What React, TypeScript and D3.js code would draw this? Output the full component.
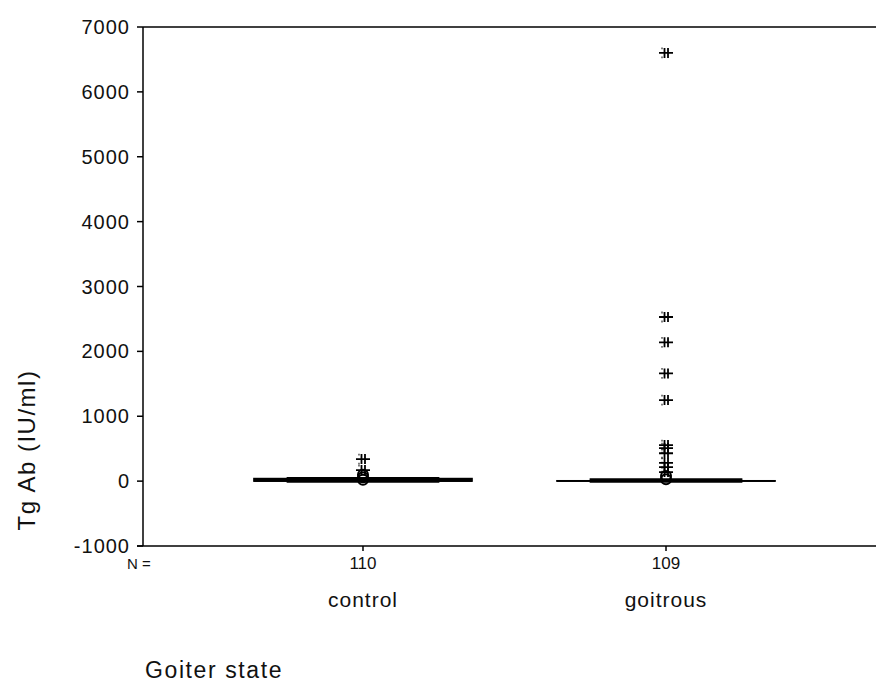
import React from "react";
import * as d3 from "d3";

const categories = ["control", "goitrous"];
const counts = [110, 109];
// five-number summaries (IU/ml)
const q1 = [0, 0];
const median = [2, 3];
const q3 = [40, 6];
const whiskerLow = [0, 0];
const whiskerHigh = [40, 20];
// outliers (circles) and extremes (stars)
const outliersControl = [20, 60, 100];
const outliersGoitrous = [30, 80];
const extremesControl = [170, 340];
const extremesGoitrous = [140, 215, 280, 430, 510, 555, 1250, 1660, 2140, 2530, 6600];
const yTicks = [-1000, 0, 1000, 2000, 3000, 4000, 5000, 6000, 7000];

const W = 876;
const H = 686;
const left = 143;
const top = 27;
const bottom = 546;
const font = "'Liberation Sans', Arial, sans-serif";

const outliers = [outliersControl, outliersGoitrous];
const extremes = [extremesControl, extremesGoitrous];

// SPSS style extreme marker
const starPath = "M-7,0H7M-1.5,-5V5M2,-5V5M-4.5,-4.5h1M-4.5,4.5h1";

export default function App() {
  const y = d3.scaleLinear().domain([-1000, 7000]).range([bottom, top]);
  const x = d3
    .scalePoint<string>()
    .domain(categories)
    .range([left, 886])
    .padding(0.726);
  const step = x.step();
  const boxW = step * 0.72;
  const capW = boxW * 0.7;

  return (
    <svg
      width={W}
      height={H}
      style={{ position: "absolute", left: 0, top: 0, background: "#fff" }}
      fontFamily={font}
    >
      {/* frame */}
      <line x1={left} x2={W} y1={top} y2={top} stroke="#000" strokeWidth={1.5} />
      <line x1={left} x2={left} y1={top} y2={bottom} stroke="#000" strokeWidth={1.5} />
      <line x1={left - 6} x2={W} y1={bottom} y2={bottom} stroke="#000" strokeWidth={1.5} />

      {/* y axis */}
      {yTicks.map((t) => (
        <g key={t}>
          <line x1={left - 6} x2={left} y1={y(t)} y2={y(t)} stroke="#000" strokeWidth={1.5} />
          <text
            x={left - 13}
            y={y(t)}
            dy="0.35em"
            textAnchor="end"
            fontSize={20}
            letterSpacing={1}
            fill="#111"
          >
            {t}
          </text>
        </g>
      ))}
      <text
        transform={`translate(35,450) rotate(-90)`}
        textAnchor="middle"
        fontSize={24}
        letterSpacing={1.5}
        fill="#111"
      >
        Tg Ab (IU/ml)
      </text>

      {/* x axis */}
      <text x={127} y={569} fontSize={15} fill="#111">
        N =
      </text>
      {categories.map((c, i) => {
        const cx = x(c) as number;
        return (
          <g key={c}>
            <line x1={cx} x2={cx} y1={bottom} y2={bottom + 5} stroke="#000" strokeWidth={1.5} />
            <text x={cx} y={569} textAnchor="middle" fontSize={17} fill="#111">
              {counts[i]}
            </text>
            <text x={cx} y={607} textAnchor="middle" fontSize={21} letterSpacing={1} fill="#111">
              {c}
            </text>
          </g>
        );
      })}
      <text x={145} y={678} fontSize={23} letterSpacing={1.6} fill="#111">
        Goiter state
      </text>

      {/* boxes */}
      {categories.map((c, i) => {
        const cx = x(c) as number;
        return (
          <g key={c}>
            <line x1={cx} x2={cx} y1={y(whiskerLow[i])} y2={y(whiskerHigh[i])} stroke="#000" />
            <line
              x1={cx - capW / 2}
              x2={cx + capW / 2}
              y1={y(whiskerHigh[i])}
              y2={y(whiskerHigh[i])}
              stroke="#000"
              strokeWidth={3}
            />
            <line
              x1={cx - capW / 2}
              x2={cx + capW / 2}
              y1={y(whiskerLow[i])}
              y2={y(whiskerLow[i])}
              stroke="#000"
              strokeWidth={3}
            />
            <rect
              x={cx - boxW / 2}
              y={y(q3[i])}
              width={boxW}
              height={Math.max(0, y(q1[i]) - y(q3[i]))}
              fill="#000"
              stroke="#000"
              strokeWidth={1.5}
            />
            <line
              x1={cx - boxW / 2}
              x2={cx + boxW / 2}
              y1={y(median[i])}
              y2={y(median[i])}
              stroke="#000"
              strokeWidth={1.5}
            />
            {outliers[i].map((v, j) => (
              <circle
                key={"o" + j}
                cx={cx}
                cy={y(v)}
                r={5}
                fill="none"
                stroke="#000"
                strokeWidth={2}
              />
            ))}
            {extremes[i].map((v, j) => (
              <path
                key={"e" + j}
                d={starPath}
                transform={`translate(${cx},${y(v)})`}
                fill="none"
                stroke="#000"
                strokeWidth={1.8}
              />
            ))}
          </g>
        );
      })}
    </svg>
  );
}
